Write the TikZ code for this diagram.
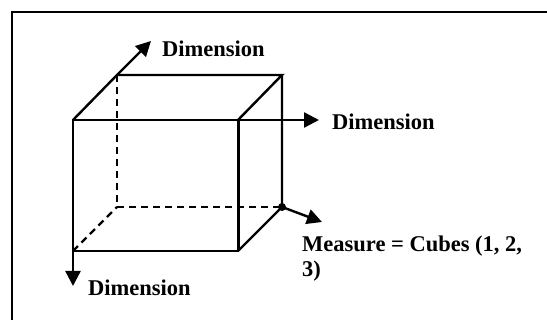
\documentclass[tikz,border=0pt]{standalone}
\usepackage{fontspec}
\setmainfont{Liberation Serif}
\usetikzlibrary{arrows.meta}

\begin{document}
\begin{tikzpicture}[x=1pt, y=-1pt,
  edge/.style={line width=2.4pt, line join=miter},
  hidden/.style={line width=2.4pt, dash pattern=on 7pt off 5pt},
  axis/.style={line width=2.4pt, -{Triangle[length=15pt, width=15pt]}},
  lbl/.style={font=\bfseries\fontsize{22.5}{25}\selectfont, inner sep=0pt, anchor=base west, align=left}
]
  \useasboundingbox (0,0) rectangle (547,320);
  % outer frame (only top and left edges visible)
  \draw[line width=2pt] (547,12) -- (12,12) -- (12,320);

  % front face corners
  \coordinate (ftl) at (73,120);
  \coordinate (ftr) at (238,120);
  \coordinate (fbl) at (73,251);
  \coordinate (fbr) at (238,251);
  % back face corners
  \coordinate (btl) at (117,75);
  \coordinate (btr) at (282,75);
  \coordinate (bbl) at (117,207);
  \coordinate (bbr) at (282,207);
  % free ends of the arrows
  \coordinate (upend) at (151,41);
  \coordinate (rightend) at (319,120);
  \coordinate (downend) at (73,286);
  \coordinate (measend) at (322,222);

  % hidden edges
  \draw[hidden] (btl) -- (bbl) -- (bbr);
  \draw[hidden] (fbl) -- (bbl);

  % visible edges
  \draw[edge] (ftl) rectangle (fbr);
  \draw[edge] (ftl) -- (btl) -- (btr) -- (ftr);
  \draw[edge] (btr) -- (bbr) -- (fbr);
  \draw[line width=3pt] (ftr) -- (fbr);

  % dimension arrows
  \draw[axis] (btl) -- (upend);
  \draw[axis] (ftr) -- (rightend);
  \draw[axis] (fbl) -- (downend);

  % measure point
  \fill (bbr) circle (4pt);
  \draw[axis] (bbr) -- (measend);

  % labels
  \node[lbl] (dimup) at (162,57) {Dimension};
  \node[lbl] (dimright) at (332,130) {Dimension};
  \node[lbl] (dimdown) at (88,296) {Dimension};
  \node[lbl] (measure) at (302,277) {Measure = Cubes (1, 2,\\3)};
\end{tikzpicture}
\end{document}
